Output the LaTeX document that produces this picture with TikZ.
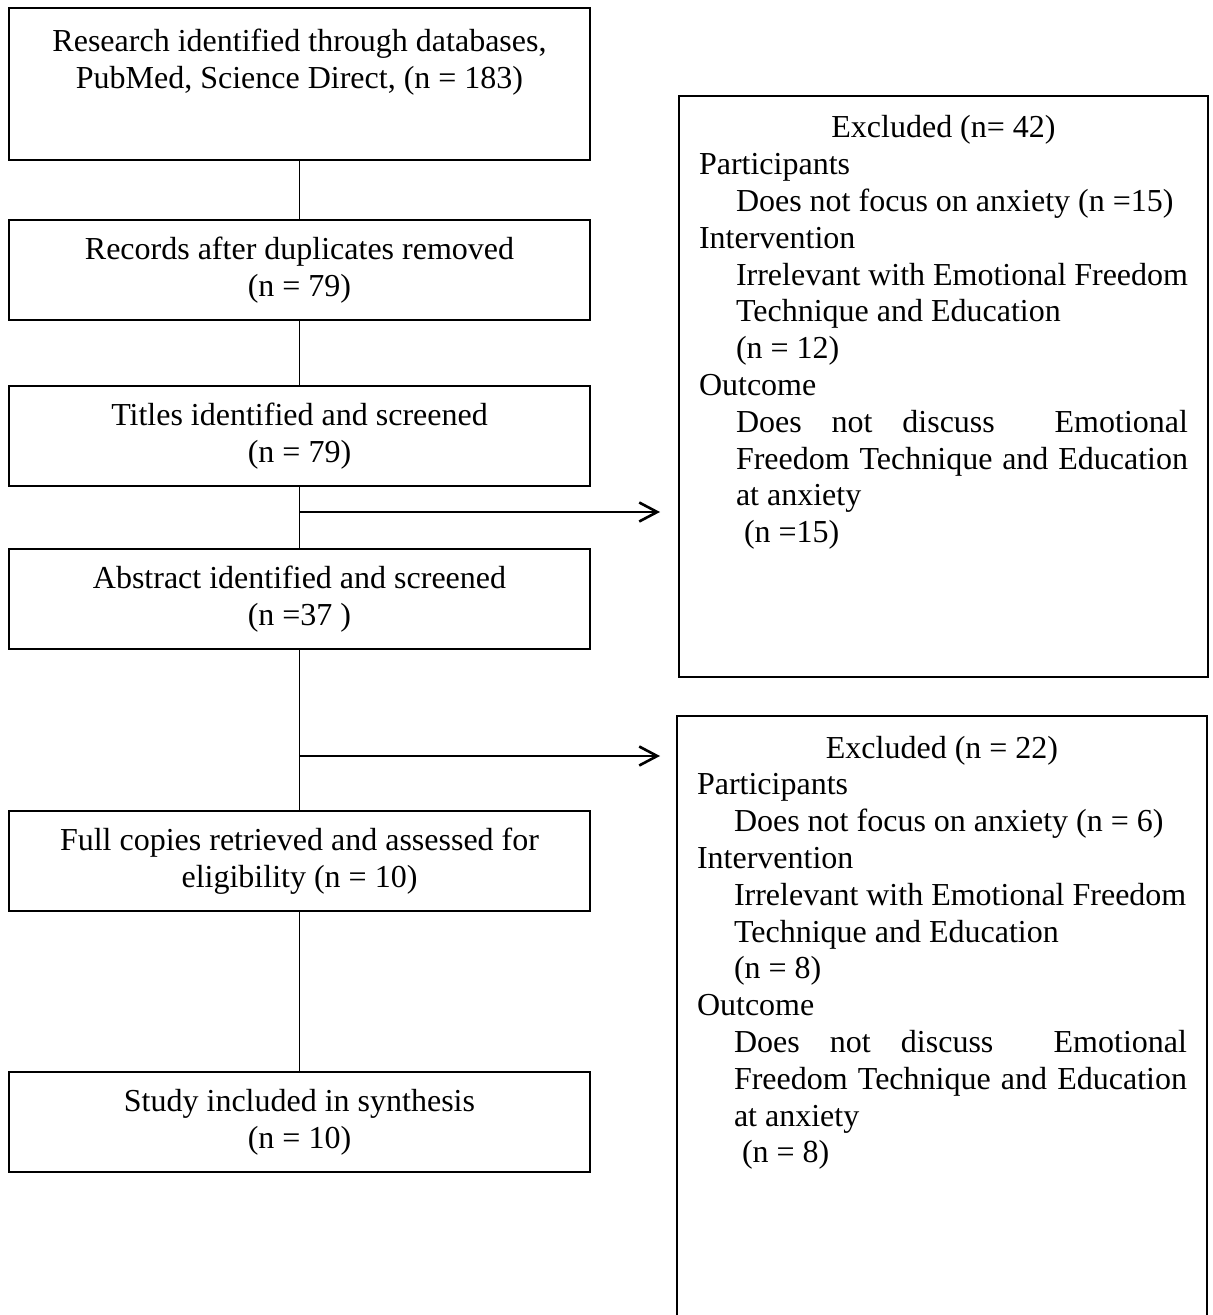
\documentclass[tikz,border=0pt]{standalone}
\usepackage{fontspec}
\setmainfont{Liberation Serif}
\usetikzlibrary{arrows.meta}
\newcommand\exind{\hspace*{18.5pt}}
\begin{document}
\begin{tikzpicture}[x=0.5pt, y=-0.5pt,
  font=\fontsize{16}{18.4}\selectfont,
  stage/.style={draw, line width=0.8pt, minimum width=290.5pt, minimum height=50pt, align=center, inner sep=0pt},
  exclbox/.style={draw, line width=0.8pt, inner xsep=10pt, inner ysep=0pt},
  link/.style={line width=0.8pt},
  flow/.style={line width=1.3pt, -{Straight Barb[length=9pt, width=9.5pt]}}]
  \useasboundingbox (0,0) rectangle (1213,1315);
  \node[stage, minimum height=76pt] (rsrch) at (299.5,84) {Research identified through databases,\\PubMed, Science Direct, (n = 183)\\[7pt]\mbox{}};
  \node[stage] (dup) at (299.5,270) {Records after duplicates removed\\(n = 79)};
  \node[stage] (titles) at (299.5,436) {Titles identified and screened\\(n = 79)};
  \node[stage] (abst) at (299.5,599) {Abstract identified and screened\\(n =37 )};
  \node[stage] (full) at (299.5,861) {Full copies retrieved and assessed for\\eligibility (n = 10)};
  \node[stage] (incl) at (299.5,1122) {Study included in synthesis\\(n = 10)};
  \node[exclbox] (exclA) at (943.5,386.5) {\parbox[c][290.5pt][t]{244.5pt}{%
    \makebox[\linewidth]{\rule{0pt}{21pt}Excluded (n= 42)}\\
    Participants\\
    \exind Does not focus on anxiety (n =15)\\
    Intervention\\
    \exind Irrelevant with Emotional Freedom\\
    \exind Technique and Education\\
    \exind (n = 12)\\
    Outcome\\
    \exind\makebox[\dimexpr\linewidth-18.5pt][l]{Does\hfill not\hfill discuss\hfill\hfill Emotional}\\
    \exind\makebox[\dimexpr\linewidth-18.5pt][s]{Freedom Technique and Education}\\
    \exind at anxiety\\
    \exind\ (n =15)}};
  \node[exclbox] (exclB) at (942,1019) {\parbox[c][303pt][t]{245pt}{%
    \makebox[\linewidth]{\rule{0pt}{21pt}Excluded (n = 22)}\\
    Participants\\
    \exind Does not focus on anxiety (n = 6)\\
    Intervention\\
    \exind Irrelevant with Emotional Freedom\\
    \exind Technique and Education\\
    \exind (n = 8)\\
    Outcome\\
    \exind\makebox[\dimexpr\linewidth-18.5pt][l]{Does\hfill not\hfill discuss\hfill\hfill Emotional}\\
    \exind\makebox[\dimexpr\linewidth-18.5pt][s]{Freedom Technique and Education}\\
    \exind at anxiety\\
    \exind\ (n = 8)}};
  \draw[link] (rsrch) -- (dup);
  \draw[link] (dup) -- (titles);
  \draw[link] (titles) -- (abst);
  \draw[link] (abst) -- (full);
  \draw[link] (full) -- (incl);
  \coordinate (tipA) at (660,512);
  \coordinate (tipB) at (660,756);
  \draw[flow] (titles.south |- tipA) -- (tipA);
  \draw[flow] (abst.south |- tipB) -- (tipB);
\end{tikzpicture}
\end{document}
